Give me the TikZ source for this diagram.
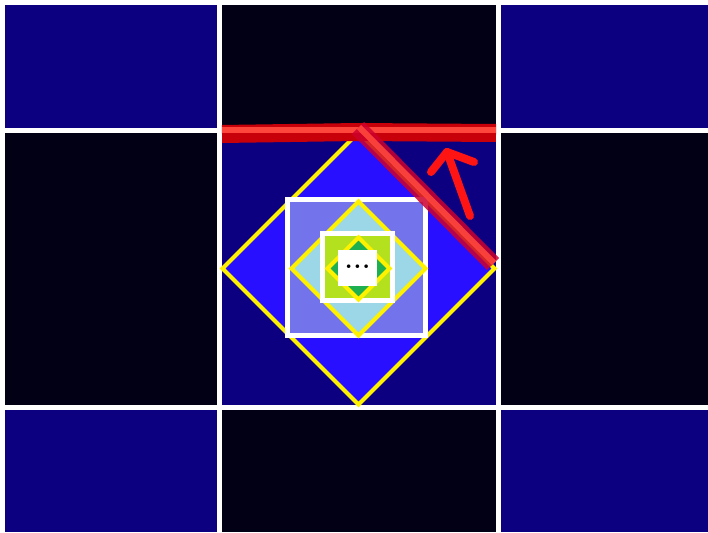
\documentclass[tikz,border=0pt]{standalone}
\usepackage{tikz}
\usetikzlibrary{calc}
\definecolor{cellblue}{RGB}{12,0,128}
\definecolor{cellblack}{RGB}{2,0,20}
\definecolor{bright}{RGB}{40,15,255}
\definecolor{lavender}{RGB}{115,115,235}
\definecolor{sky}{RGB}{155,215,230}
\definecolor{lime}{RGB}{180,225,30}
\definecolor{leaf}{RGB}{30,175,80}
\definecolor{mark}{RGB}{255,20,20}
\definecolor{markdark}{RGB}{200,0,10}
\definecolor{marklight}{RGB}{255,70,60}
\definecolor{markcrim}{RGB}{205,0,45}

\begin{document}
\begin{tikzpicture}[x=1pt, y=-1pt,
  dia/.style={draw=yellow, line width=4pt, line join=miter},
  sq/.style={draw=white, line width=5pt},
  hl/.style={line width=18pt, draw=markdark},
  hldiag/.style={line width=17pt, draw=markcrim, opacity=0.85},
  hlin/.style={line width=6pt, draw=marklight, opacity=0.9},
  pen/.style={line width=8pt, draw=mark, line cap=round, line join=round}]

\useasboundingbox[fill=white] (0,0) rectangle (708,532);

% --- grid of cells
\foreach \xa/\xb [count=\i] in {5/217, 222/496, 501/708}
  \foreach \ya/\yb [count=\j] in {5/128, 133/405, 410/532} {
    \pgfmathtruncatemacro{\cellpar}{mod(\i+\j,2)}
    \ifnum\cellpar=0
      \fill[cellblue] (\xa,\ya) rectangle (\xb,\yb);
    \else
      \fill[cellblack] (\xa,\ya) rectangle (\xb,\yb);
    \fi
  }

% --- nested diamonds and squares, centre (358.5,268.5)
\coordinate (c) at (358.5,268.5);
\filldraw[dia, fill=bright] ($(c)+(0,-136)$) -- ($(c)+(136,0)$) -- ($(c)+(0,136)$) -- ($(c)+(-136,0)$) -- cycle;
\filldraw[sq, fill=lavender] ($(c)+(-71,-69)$) rectangle ($(c)+(67,67)$);
\filldraw[dia, fill=sky] ($(c)+(0,-67)$) -- ($(c)+(67,0)$) -- ($(c)+(0,67)$) -- ($(c)+(-67,0)$) -- cycle;
\filldraw[sq, fill=lime] ($(c)+(-36,-35)$) rectangle ($(c)+(34,32)$);
\filldraw[dia, fill=leaf] ($(c)+(0,-31)$) -- ($(c)+(31,0)$) -- ($(c)+(0,31)$) -- ($(c)+(-31,0)$) -- cycle;
\node[fill=white, minimum width=39pt, minimum height=36pt, inner sep=0pt, font=\Huge\bfseries]
  (dots) at ($(c)+(-1,-1)$) {\raisebox{1pt}{.\kern1pt.\kern1pt.}};

% --- red markings
\coordinate (tl) at (222,134);
\coordinate (tm) at (358,132);
\coordinate (tr) at (496,133);
\coordinate (dt) at (358,128);
\coordinate (br) at (493,264);
\draw[hl] (tl) -- (tm) -- (tr);
\draw[hlin, opacity=1] ($(tl)+(0,-4)$) -- ($(tr)+(0,-3)$);
\draw[hldiag] (dt) -- (br);
\draw[hlin] ($(dt)+(1,-1)$) -- ($(br)+(1,-1)$);

\coordinate (tail) at (470,216);
\coordinate (tip) at (447,152);
\draw[pen] (tail) -- (tip);
\draw[pen] (431,172) -- (tip) -- (474,162);
\end{tikzpicture}
\end{document}
